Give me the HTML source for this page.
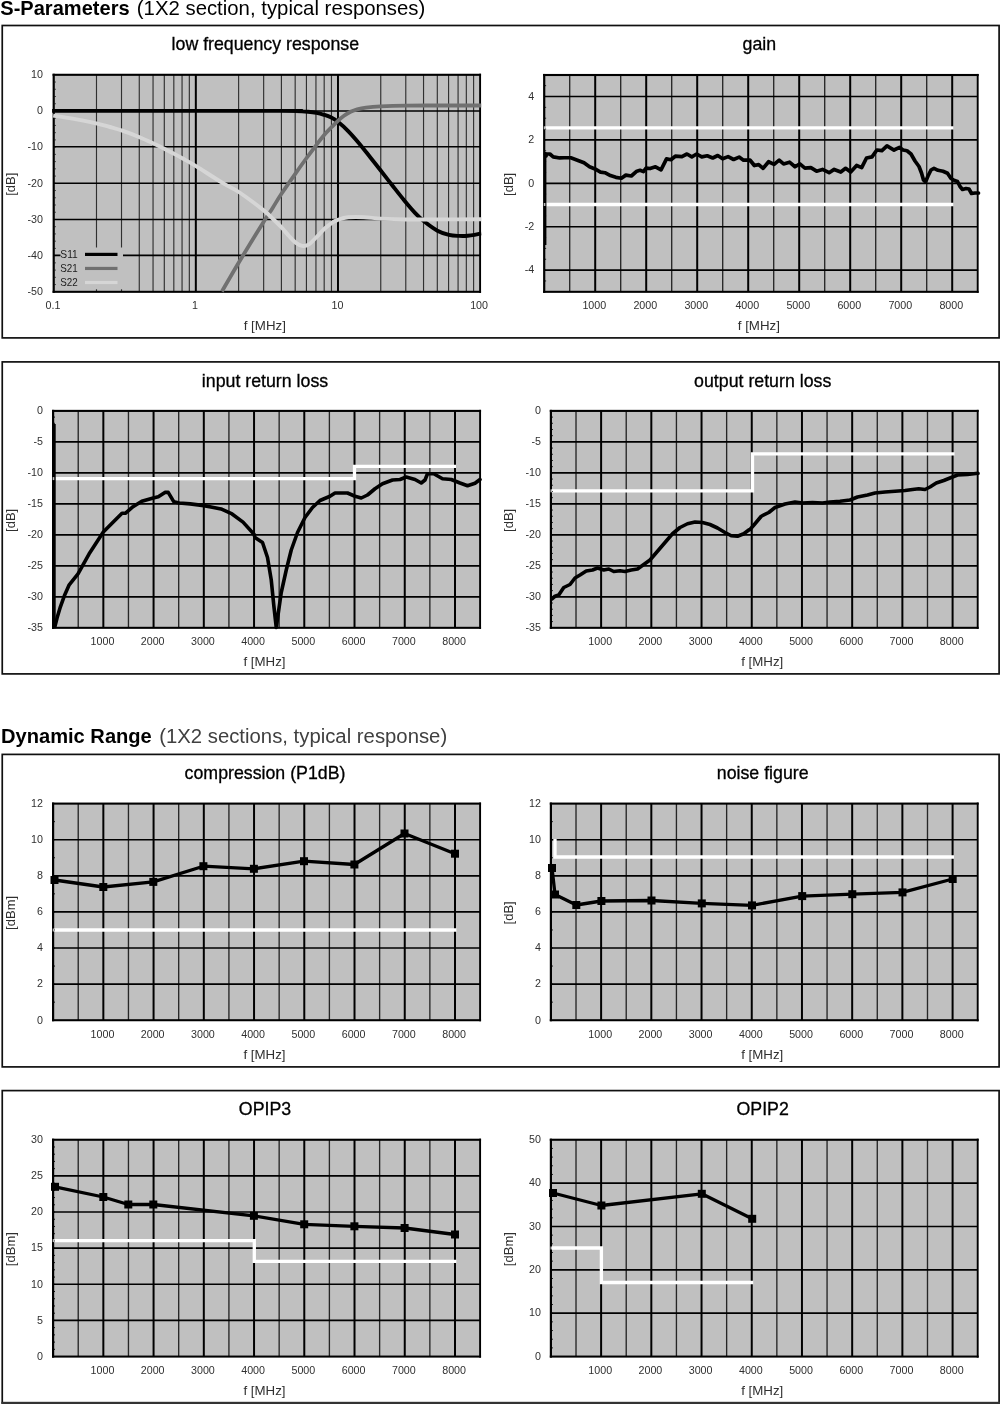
<!DOCTYPE html>
<html><head><meta charset="utf-8"><title>S-Parameters / Dynamic Range</title>
<style>
html,body{margin:0;padding:0;background:#fff;}
body{width:1000px;height:1404px;overflow:hidden;font-family:"Liberation Sans",sans-serif;}
svg{display:block;will-change:transform;}
text{font-family:"Liberation Sans",sans-serif;}
</style></head><body>
<svg width="1000" height="1404" viewBox="0 0 1000 1404" font-family="'Liberation Sans', sans-serif">
<rect width="1000" height="1404" fill="#fff"/>
<text x="0.3" y="14.6" font-size="20.8" fill="#000" font-weight="bold" textLength="129.3" lengthAdjust="spacingAndGlyphs">S-Parameters</text>
<text x="136.8" y="14.6" font-size="20.8" fill="#000" textLength="288.5" lengthAdjust="spacingAndGlyphs">(1X2 section, typical responses)</text>
<text x="1" y="743.4" font-size="20" fill="#000" font-weight="bold" textLength="150.8" lengthAdjust="spacingAndGlyphs">Dynamic Range</text>
<text x="159.2" y="743.3" font-size="20" fill="#404040" textLength="288" lengthAdjust="spacingAndGlyphs">(1X2 sections, typical response)</text>
<rect x="2.25" y="25.5" width="996.85" height="312.4" fill="none" stroke="#101010" stroke-width="1.7"/>
<rect x="2.25" y="361.9" width="996.85" height="312" fill="none" stroke="#101010" stroke-width="1.7"/>
<rect x="2.25" y="754.4" width="996.85" height="312.5" fill="none" stroke="#101010" stroke-width="1.7"/>
<rect x="2.25" y="1090.6" width="996.85" height="312.3" fill="none" stroke="#101010" stroke-width="1.7"/>
<rect x="1.4" y="1401.8" width="998.6" height="2.2" fill="#333"/>
<rect x="53.7" y="74.8" width="426.4" height="217" fill="#c0c0c0"/>
<line x1="96.49" y1="74.8" x2="96.49" y2="291.8" stroke="#303030" stroke-width="1.15"/>
<line x1="121.51" y1="74.8" x2="121.51" y2="291.8" stroke="#303030" stroke-width="1.15"/>
<line x1="139.27" y1="74.8" x2="139.27" y2="291.8" stroke="#303030" stroke-width="1.15"/>
<line x1="153.05" y1="74.8" x2="153.05" y2="291.8" stroke="#303030" stroke-width="1.15"/>
<line x1="164.3" y1="74.8" x2="164.3" y2="291.8" stroke="#303030" stroke-width="1.15"/>
<line x1="173.82" y1="74.8" x2="173.82" y2="291.8" stroke="#303030" stroke-width="1.15"/>
<line x1="182.06" y1="74.8" x2="182.06" y2="291.8" stroke="#303030" stroke-width="1.15"/>
<line x1="189.33" y1="74.8" x2="189.33" y2="291.8" stroke="#303030" stroke-width="1.15"/>
<line x1="238.62" y1="74.8" x2="238.62" y2="291.8" stroke="#303030" stroke-width="1.15"/>
<line x1="263.65" y1="74.8" x2="263.65" y2="291.8" stroke="#303030" stroke-width="1.15"/>
<line x1="281.41" y1="74.8" x2="281.41" y2="291.8" stroke="#303030" stroke-width="1.15"/>
<line x1="295.18" y1="74.8" x2="295.18" y2="291.8" stroke="#303030" stroke-width="1.15"/>
<line x1="306.43" y1="74.8" x2="306.43" y2="291.8" stroke="#303030" stroke-width="1.15"/>
<line x1="315.95" y1="74.8" x2="315.95" y2="291.8" stroke="#303030" stroke-width="1.15"/>
<line x1="324.19" y1="74.8" x2="324.19" y2="291.8" stroke="#303030" stroke-width="1.15"/>
<line x1="331.46" y1="74.8" x2="331.46" y2="291.8" stroke="#303030" stroke-width="1.15"/>
<line x1="380.75" y1="74.8" x2="380.75" y2="291.8" stroke="#303030" stroke-width="1.15"/>
<line x1="405.78" y1="74.8" x2="405.78" y2="291.8" stroke="#303030" stroke-width="1.15"/>
<line x1="423.54" y1="74.8" x2="423.54" y2="291.8" stroke="#303030" stroke-width="1.15"/>
<line x1="437.31" y1="74.8" x2="437.31" y2="291.8" stroke="#303030" stroke-width="1.15"/>
<line x1="448.57" y1="74.8" x2="448.57" y2="291.8" stroke="#303030" stroke-width="1.15"/>
<line x1="458.08" y1="74.8" x2="458.08" y2="291.8" stroke="#303030" stroke-width="1.15"/>
<line x1="466.33" y1="74.8" x2="466.33" y2="291.8" stroke="#303030" stroke-width="1.15"/>
<line x1="473.6" y1="74.8" x2="473.6" y2="291.8" stroke="#303030" stroke-width="1.15"/>
<line x1="195.83" y1="74.8" x2="195.83" y2="291.8" stroke="#000" stroke-width="2"/>
<line x1="337.97" y1="74.8" x2="337.97" y2="291.8" stroke="#000" stroke-width="2"/>
<line x1="53.7" y1="111" x2="480.1" y2="111" stroke="#000" stroke-width="1.65"/>
<line x1="53.7" y1="146.7" x2="480.1" y2="146.7" stroke="#000" stroke-width="1.65"/>
<line x1="53.7" y1="183.2" x2="480.1" y2="183.2" stroke="#000" stroke-width="1.65"/>
<line x1="53.7" y1="219.5" x2="480.1" y2="219.5" stroke="#000" stroke-width="1.65"/>
<line x1="53.7" y1="255.3" x2="480.1" y2="255.3" stroke="#000" stroke-width="1.65"/>
<rect x="60.5" y="247.5" width="62.5" height="41.8" fill="#c0c0c0"/>
<rect x="52.6" y="73.75" width="428.45" height="2.1" fill="#000"/>
<rect x="52.6" y="290.8" width="428.45" height="2.05" fill="#000"/>
<rect x="52.6" y="73.75" width="2.2" height="219.1" fill="#000"/>
<rect x="479.15" y="73.75" width="1.9" height="219.1" fill="#000"/>
<rect x="54.7" y="81.53" width="0.9" height="1" fill="#000"/>
<rect x="54.7" y="88.77" width="0.9" height="1" fill="#000"/>
<rect x="54.7" y="96" width="0.9" height="1" fill="#000"/>
<rect x="54.7" y="103.23" width="0.9" height="1" fill="#000"/>
<rect x="54.7" y="110.47" width="0.9" height="1" fill="#000"/>
<rect x="54.7" y="117.7" width="0.9" height="1" fill="#000"/>
<rect x="54.7" y="124.93" width="0.9" height="1" fill="#000"/>
<rect x="54.7" y="132.17" width="0.9" height="1" fill="#000"/>
<rect x="54.7" y="139.4" width="0.9" height="1" fill="#000"/>
<rect x="54.7" y="146.63" width="0.9" height="1" fill="#000"/>
<rect x="54.7" y="153.87" width="0.9" height="1" fill="#000"/>
<rect x="54.7" y="161.1" width="0.9" height="1" fill="#000"/>
<rect x="54.7" y="168.33" width="0.9" height="1" fill="#000"/>
<rect x="54.7" y="175.57" width="0.9" height="1" fill="#000"/>
<rect x="54.7" y="182.8" width="0.9" height="1" fill="#000"/>
<rect x="54.7" y="190.03" width="0.9" height="1" fill="#000"/>
<rect x="54.7" y="197.27" width="0.9" height="1" fill="#000"/>
<rect x="54.7" y="204.5" width="0.9" height="1" fill="#000"/>
<rect x="54.7" y="211.73" width="0.9" height="1" fill="#000"/>
<rect x="54.7" y="218.97" width="0.9" height="1" fill="#000"/>
<rect x="54.7" y="226.2" width="0.9" height="1" fill="#000"/>
<rect x="54.7" y="233.43" width="0.9" height="1" fill="#000"/>
<rect x="54.7" y="240.67" width="0.9" height="1" fill="#000"/>
<rect x="54.7" y="247.9" width="0.9" height="1" fill="#000"/>
<rect x="54.7" y="255.13" width="0.9" height="1" fill="#000"/>
<rect x="54.7" y="262.37" width="0.9" height="1" fill="#000"/>
<rect x="54.7" y="269.6" width="0.9" height="1" fill="#000"/>
<rect x="54.7" y="276.83" width="0.9" height="1" fill="#000"/>
<rect x="54.7" y="284.07" width="0.9" height="1" fill="#000"/>
<clipPath id="cp1"><rect x="52.1" y="74.8" width="429.3" height="218.2"/></clipPath>
<g clip-path="url(#cp1)">
<path d="M51.9,110.9 C89.92,110.9 239.38,110.87 280,110.9 C320.62,110.93 290.93,110.95 295.6,111.1 C300.27,111.25 304.52,111.5 308,111.8 C311.48,112.1 313.83,112.4 316.5,112.9 C319.17,113.4 321.62,114.07 324,114.8 C326.38,115.53 328.48,116.13 330.8,117.3 C333.12,118.47 334.97,119.47 337.9,121.8 C340.83,124.13 344.82,127.65 348.4,131.3 C351.98,134.95 355.73,139.33 359.4,143.7 C363.07,148.07 366.88,153.08 370.4,157.5 C373.92,161.92 376.83,165.53 380.5,170.2 C384.17,174.87 388.4,180.42 392.4,185.5 C396.4,190.58 400.73,196.15 404.5,200.7 C408.27,205.25 411.75,209.37 415,212.8 C418.25,216.23 420.27,218.32 424,221.3 C427.73,224.28 433.23,228.43 437.4,230.7 C441.57,232.97 445.37,234.03 449,234.9 C452.63,235.77 456.08,235.75 459.2,235.9 C462.32,236.05 465.15,235.97 467.7,235.8 C470.25,235.63 472.2,235.32 474.5,234.9 C476.8,234.48 480.33,233.57 481.5,233.3" fill="none" stroke="#000" stroke-width="3.9" stroke-linejoin="round" stroke-linecap="butt" />
<path d="M221.9,291.5 C224.72,286.65 231.83,274.03 238.8,262.4 C245.77,250.77 258.08,230.73 263.7,221.7 C269.32,212.67 269.57,212.82 272.5,208.2 C275.43,203.58 277.45,199.82 281.3,194 C285.15,188.18 291.38,179.3 295.6,173.3 C299.82,167.3 303.12,162.75 306.6,158 C310.08,153.25 313.57,148.65 316.5,144.8 C319.43,140.95 321.63,137.9 324.2,134.9 C326.77,131.9 329.62,129.15 331.9,126.8 C334.18,124.45 335.88,122.63 337.9,120.8 C339.92,118.97 341.88,117.3 344,115.8 C346.12,114.3 348.4,112.88 350.6,111.8 C352.8,110.72 354.63,110 357.2,109.3 C359.77,108.6 362.12,108.08 366,107.6 C369.88,107.12 373.83,106.73 380.5,106.4 C387.17,106.07 396.08,105.75 406,105.6 C415.92,105.45 427.42,105.52 440,105.5 C452.58,105.48 474.58,105.5 481.5,105.5" fill="none" stroke="#707070" stroke-width="3.8" stroke-linejoin="round" stroke-linecap="butt" />
<path d="M53.2,115.6 C56.42,116.12 65.16,117.37 72.5,118.7 C79.84,120.03 91,122.22 97.25,123.6 C103.5,124.98 105.83,125.82 110,127 C114.17,128.18 117.38,129 122.3,130.7 C127.22,132.4 134.3,135.07 139.5,137.2 C144.7,139.33 149.29,141.55 153.5,143.5 C157.71,145.45 161.25,147.15 164.75,148.9 C168.25,150.65 171.5,152.4 174.5,154 C177.5,155.6 179.23,156.52 182.75,158.5 C186.27,160.48 188.89,161.78 195.6,165.9 C202.31,170.02 215.8,178.85 223,183.2 C230.2,187.55 232.02,187.47 238.8,192 C245.58,196.53 257.9,205.82 263.7,210.4 C269.5,214.98 270.67,216.7 273.6,219.5 C276.53,222.3 278.73,224.45 281.3,227.2 C283.87,229.95 286.62,233.43 289,236 C291.38,238.57 293.4,240.95 295.6,242.6 C297.8,244.25 300,245.6 302.2,245.9 C304.4,246.2 306.42,245.87 308.8,244.4 C311.18,242.93 313.93,239.67 316.5,237.1 C319.07,234.53 321.63,231.38 324.2,229 C326.77,226.62 329.62,224.33 331.9,222.8 C334.18,221.27 335.15,220.72 337.9,219.8 C340.65,218.88 344.05,217.73 348.4,217.3 C352.75,216.87 358.57,216.98 364,217.2 C369.43,217.42 374,218.22 381,218.6 C388,218.98 396.17,219.37 406,219.5 C415.83,219.63 427.42,219.43 440,219.4 C452.58,219.37 474.58,219.32 481.5,219.3" fill="none" stroke="#d6d6d6" stroke-width="3.9" stroke-linejoin="round" stroke-linecap="butt" />
</g>
<rect x="85" y="252.8" width="32.5" height="3.2" fill="#000"/>
<text x="60.3" y="257.8" font-size="11.2" text-anchor="start" fill="#202020" font-weight="normal" textLength="17.5" lengthAdjust="spacingAndGlyphs">S11</text>
<rect x="85" y="266.85" width="32.5" height="3.2" fill="#707070"/>
<text x="60.3" y="271.85" font-size="11.2" text-anchor="start" fill="#202020" font-weight="normal" textLength="17.5" lengthAdjust="spacingAndGlyphs">S21</text>
<rect x="85" y="280.9" width="32.5" height="3.2" fill="#d6d6d6"/>
<text x="60.3" y="285.9" font-size="11.2" text-anchor="start" fill="#202020" font-weight="normal" textLength="17.5" lengthAdjust="spacingAndGlyphs">S22</text>
<text x="265.3" y="50.2" font-size="17.75" text-anchor="middle" fill="#000" font-weight="normal" stroke="#000" stroke-width="0.3">low frequency response</text>
<text x="264.8" y="329.8" font-size="13.3" text-anchor="middle" fill="#303030" font-weight="normal" >f [MHz]</text>
<text x="53" y="308.9" font-size="10.7" text-anchor="middle" fill="#303030" font-weight="normal" >0.1</text>
<text x="195.03" y="308.9" font-size="10.7" text-anchor="middle" fill="#303030" font-weight="normal" >1</text>
<text x="337.47" y="308.9" font-size="10.7" text-anchor="middle" fill="#303030" font-weight="normal" >10</text>
<text x="479.1" y="308.9" font-size="10.7" text-anchor="middle" fill="#303030" font-weight="normal" >100</text>
<text x="42.9" y="78.1" font-size="10.7" text-anchor="end" fill="#303030" font-weight="normal" >10</text>
<text x="42.9" y="114.27" font-size="10.7" text-anchor="end" fill="#303030" font-weight="normal" >0</text>
<text x="42.9" y="150.43" font-size="10.7" text-anchor="end" fill="#303030" font-weight="normal" >-10</text>
<text x="42.9" y="186.6" font-size="10.7" text-anchor="end" fill="#303030" font-weight="normal" >-20</text>
<text x="42.9" y="222.77" font-size="10.7" text-anchor="end" fill="#303030" font-weight="normal" >-30</text>
<text x="42.9" y="258.93" font-size="10.7" text-anchor="end" fill="#303030" font-weight="normal" >-40</text>
<text x="42.9" y="295.1" font-size="10.7" text-anchor="end" fill="#303030" font-weight="normal" >-50</text>
<text transform="translate(14.7,184.3) rotate(-90)" font-size="13" text-anchor="middle" fill="#303030">[dB]</text>
<rect x="544.2" y="75" width="433.5" height="216.8" fill="#c0c0c0"/>
<line x1="569.7" y1="75" x2="569.7" y2="291.8" stroke="#262626" stroke-width="1.35"/>
<line x1="620.7" y1="75" x2="620.7" y2="291.8" stroke="#262626" stroke-width="1.35"/>
<line x1="671.7" y1="75" x2="671.7" y2="291.8" stroke="#262626" stroke-width="1.35"/>
<line x1="722.7" y1="75" x2="722.7" y2="291.8" stroke="#262626" stroke-width="1.35"/>
<line x1="773.7" y1="75" x2="773.7" y2="291.8" stroke="#262626" stroke-width="1.35"/>
<line x1="824.7" y1="75" x2="824.7" y2="291.8" stroke="#262626" stroke-width="1.35"/>
<line x1="875.7" y1="75" x2="875.7" y2="291.8" stroke="#262626" stroke-width="1.35"/>
<line x1="926.7" y1="75" x2="926.7" y2="291.8" stroke="#262626" stroke-width="1.35"/>
<line x1="595.2" y1="75" x2="595.2" y2="291.8" stroke="#000" stroke-width="2"/>
<line x1="646.2" y1="75" x2="646.2" y2="291.8" stroke="#000" stroke-width="2"/>
<line x1="697.2" y1="75" x2="697.2" y2="291.8" stroke="#000" stroke-width="2"/>
<line x1="748.2" y1="75" x2="748.2" y2="291.8" stroke="#000" stroke-width="2"/>
<line x1="799.2" y1="75" x2="799.2" y2="291.8" stroke="#000" stroke-width="2"/>
<line x1="850.2" y1="75" x2="850.2" y2="291.8" stroke="#000" stroke-width="2"/>
<line x1="901.2" y1="75" x2="901.2" y2="291.8" stroke="#000" stroke-width="2"/>
<line x1="952.2" y1="75" x2="952.2" y2="291.8" stroke="#000" stroke-width="2"/>
<line x1="544.2" y1="96.5" x2="977.7" y2="96.5" stroke="#000" stroke-width="1.65"/>
<line x1="544.2" y1="139.9" x2="977.7" y2="139.9" stroke="#000" stroke-width="1.65"/>
<line x1="544.2" y1="183.3" x2="977.7" y2="183.3" stroke="#000" stroke-width="1.65"/>
<line x1="544.2" y1="226.7" x2="977.7" y2="226.7" stroke="#000" stroke-width="1.65"/>
<line x1="544.2" y1="270.1" x2="977.7" y2="270.1" stroke="#000" stroke-width="1.65"/>
<polyline points="544.2,127.8 953.5,127.8" fill="none" stroke="#fff" stroke-width="3.3" stroke-linejoin="miter" stroke-linecap="butt"/>
<polyline points="544.2,204.5 953.5,204.5" fill="none" stroke="#fff" stroke-width="3.3" stroke-linejoin="miter" stroke-linecap="butt"/>
<rect x="545" y="152" width="1.4" height="93" fill="#000"/>
<polyline points="546,156 545.5,154 549.9,154 553.2,156.86 559.8,157.96 564.2,157.74 570.8,157.74 577.4,160.17 584,162.81 589.5,166.77 595.01,168.97 600.51,172.05 604.91,172.71 610.41,175.57 615.91,177.33 621.41,178.21 625.81,175.13 631.31,176.01 636.81,171.17 640.11,170.29 643.41,171.61 646.05,168.09 650.01,168.53 655.51,166.77 661.01,169.85 666.51,158.84 670.91,159.72 675.31,156.2 681.91,156.64 686.97,154 691.82,156.86 696.66,154 701.72,156.86 707.22,155.76 712.72,157.96 717.78,155.54 722.62,158.84 728.12,156.64 733.62,159.5 739.12,157.08 743.52,160.17 750.12,160.17 754.52,165.45 749.9,160.17 754.3,165.45 758.7,164.57 763.1,168.31 768.6,161.71 774.1,164.35 779.16,160.17 783.56,163.91 789.5,162.15 795.01,166.77 799.85,163.91 804.91,168.09 810.85,167.65 816.57,171.17 822.51,169.41 829.11,172.71 834.17,169.41 840.77,172.05 845.61,168.31 850.67,172.05 856.61,165.45 861.67,167.65 866.51,157.96 872.01,156.86 876.85,150.04 881.91,150.7 886.97,145.86 894.02,150.04 899.52,147.4 903,150 907,150.8 911,154 915,161 919,166.5 921.5,173 923.5,180 925.5,182 928,176 931,170 934,168.3 938,170.3 943,171.3 947.5,173.3 951,178.5 954.5,180.5 957.5,181.5 960,186.5 962.5,189.5 966,188.5 969,189 971.5,193.5 975,193 978.5,193" fill="none" stroke="#000" stroke-width="3.7" stroke-linejoin="round" stroke-linecap="round" />
<rect x="543.1" y="73.95" width="435.55" height="2.1" fill="#000"/>
<rect x="543.1" y="290.8" width="435.55" height="2.05" fill="#000"/>
<rect x="543.1" y="73.95" width="2.2" height="218.9" fill="#000"/>
<rect x="976.75" y="73.95" width="1.9" height="218.9" fill="#000"/>
<rect x="545.2" y="85.15" width="0.9" height="1" fill="#000"/>
<rect x="545.2" y="96" width="0.9" height="1" fill="#000"/>
<rect x="545.2" y="106.85" width="0.9" height="1" fill="#000"/>
<rect x="545.2" y="117.7" width="0.9" height="1" fill="#000"/>
<rect x="545.2" y="128.55" width="0.9" height="1" fill="#000"/>
<rect x="545.2" y="139.4" width="0.9" height="1" fill="#000"/>
<rect x="545.2" y="150.25" width="0.9" height="1" fill="#000"/>
<rect x="545.2" y="161.1" width="0.9" height="1" fill="#000"/>
<rect x="545.2" y="171.95" width="0.9" height="1" fill="#000"/>
<rect x="545.2" y="182.8" width="0.9" height="1" fill="#000"/>
<rect x="545.2" y="193.65" width="0.9" height="1" fill="#000"/>
<rect x="545.2" y="204.5" width="0.9" height="1" fill="#000"/>
<rect x="545.2" y="215.35" width="0.9" height="1" fill="#000"/>
<rect x="545.2" y="226.2" width="0.9" height="1" fill="#000"/>
<rect x="545.2" y="237.05" width="0.9" height="1" fill="#000"/>
<rect x="545.2" y="247.9" width="0.9" height="1" fill="#000"/>
<rect x="545.2" y="258.75" width="0.9" height="1" fill="#000"/>
<rect x="545.2" y="269.6" width="0.9" height="1" fill="#000"/>
<rect x="545.2" y="280.45" width="0.9" height="1" fill="#000"/>
<rect x="543.8" y="126.3" width="1.6" height="3" fill="#fff" opacity="0.75"/>
<rect x="543.8" y="203" width="1.6" height="3" fill="#fff" opacity="0.75"/>
<text x="759.35" y="50.2" font-size="17.75" text-anchor="middle" fill="#000" font-weight="normal" stroke="#000" stroke-width="0.3">gain</text>
<text x="758.85" y="329.8" font-size="13.3" text-anchor="middle" fill="#303030" font-weight="normal" >f [MHz]</text>
<text x="594.3" y="308.9" font-size="10.7" text-anchor="middle" fill="#303030" font-weight="normal" >1000</text>
<text x="645.3" y="308.9" font-size="10.7" text-anchor="middle" fill="#303030" font-weight="normal" >2000</text>
<text x="696.3" y="308.9" font-size="10.7" text-anchor="middle" fill="#303030" font-weight="normal" >3000</text>
<text x="747.3" y="308.9" font-size="10.7" text-anchor="middle" fill="#303030" font-weight="normal" >4000</text>
<text x="798.3" y="308.9" font-size="10.7" text-anchor="middle" fill="#303030" font-weight="normal" >5000</text>
<text x="849.3" y="308.9" font-size="10.7" text-anchor="middle" fill="#303030" font-weight="normal" >6000</text>
<text x="900.3" y="308.9" font-size="10.7" text-anchor="middle" fill="#303030" font-weight="normal" >7000</text>
<text x="951.3" y="308.9" font-size="10.7" text-anchor="middle" fill="#303030" font-weight="normal" >8000</text>
<text x="534.2" y="99.8" font-size="10.7" text-anchor="end" fill="#303030" font-weight="normal" >4</text>
<text x="534.2" y="143.2" font-size="10.7" text-anchor="end" fill="#303030" font-weight="normal" >2</text>
<text x="534.2" y="186.6" font-size="10.7" text-anchor="end" fill="#303030" font-weight="normal" >0</text>
<text x="534.2" y="230" font-size="10.7" text-anchor="end" fill="#303030" font-weight="normal" >-2</text>
<text x="534.2" y="273.4" font-size="10.7" text-anchor="end" fill="#303030" font-weight="normal" >-4</text>
<text transform="translate(513.2,184.4) rotate(-90)" font-size="13" text-anchor="middle" fill="#303030">[dB]</text>
<rect x="53.1" y="410.9" width="427" height="216.9" fill="#c0c0c0"/>
<line x1="78.22" y1="410.9" x2="78.22" y2="627.8" stroke="#262626" stroke-width="1.35"/>
<line x1="128.45" y1="410.9" x2="128.45" y2="627.8" stroke="#262626" stroke-width="1.35"/>
<line x1="178.69" y1="410.9" x2="178.69" y2="627.8" stroke="#262626" stroke-width="1.35"/>
<line x1="228.92" y1="410.9" x2="228.92" y2="627.8" stroke="#262626" stroke-width="1.35"/>
<line x1="279.16" y1="410.9" x2="279.16" y2="627.8" stroke="#262626" stroke-width="1.35"/>
<line x1="329.39" y1="410.9" x2="329.39" y2="627.8" stroke="#262626" stroke-width="1.35"/>
<line x1="379.63" y1="410.9" x2="379.63" y2="627.8" stroke="#262626" stroke-width="1.35"/>
<line x1="429.86" y1="410.9" x2="429.86" y2="627.8" stroke="#262626" stroke-width="1.35"/>
<line x1="103.34" y1="410.9" x2="103.34" y2="627.8" stroke="#000" stroke-width="2"/>
<line x1="153.57" y1="410.9" x2="153.57" y2="627.8" stroke="#000" stroke-width="2"/>
<line x1="203.81" y1="410.9" x2="203.81" y2="627.8" stroke="#000" stroke-width="2"/>
<line x1="254.04" y1="410.9" x2="254.04" y2="627.8" stroke="#000" stroke-width="2"/>
<line x1="304.28" y1="410.9" x2="304.28" y2="627.8" stroke="#000" stroke-width="2"/>
<line x1="354.51" y1="410.9" x2="354.51" y2="627.8" stroke="#000" stroke-width="2"/>
<line x1="404.75" y1="410.9" x2="404.75" y2="627.8" stroke="#000" stroke-width="2"/>
<line x1="454.98" y1="410.9" x2="454.98" y2="627.8" stroke="#000" stroke-width="2"/>
<line x1="53.1" y1="441.89" x2="480.1" y2="441.89" stroke="#000" stroke-width="1.65"/>
<line x1="53.1" y1="472.87" x2="480.1" y2="472.87" stroke="#000" stroke-width="1.65"/>
<line x1="53.1" y1="503.86" x2="480.1" y2="503.86" stroke="#000" stroke-width="1.65"/>
<line x1="53.1" y1="534.84" x2="480.1" y2="534.84" stroke="#000" stroke-width="1.65"/>
<line x1="53.1" y1="565.83" x2="480.1" y2="565.83" stroke="#000" stroke-width="1.65"/>
<line x1="53.1" y1="596.81" x2="480.1" y2="596.81" stroke="#000" stroke-width="1.65"/>
<polyline points="53.1,478.6 354.5,478.6 354.5,466.3 456,466.3" fill="none" stroke="#fff" stroke-width="3.3" stroke-linejoin="miter" stroke-linecap="butt"/>
<rect x="54" y="424" width="1.7" height="203" fill="#000"/>
<polyline points="54.9,626.62 57.1,617.82 60.4,606.82 64.8,594.72 69.2,584.82 78,573.82 89,554.02 103.31,532.01 111.01,524.31 122.01,513.31 125.31,513.31 133.01,506.71 141.81,501.21 153.25,497.91 158.31,496.81 164.91,492.41 168.21,492.41 173.71,501.65 179.21,502.97 190.21,503.85 203.86,505.61 212.22,507.15 221.02,508.91 232.02,513.97 243.02,522.11 254.02,534.21 255,537.5 262.5,542.5 267.5,557.5 271.25,580 273.75,605 276.25,627.5 278.75,610 281.25,592.5 286.25,570 291.25,550 297.5,532.5 305,517.5 312.5,507.5 320,500.5 330,496.25 335,493 347.5,493 355,496.25 361.25,498 367.5,495 375,488.75 382.5,483.75 392.5,480 400,479.5 406.25,477 415,479.5 421.25,483 425,480 427.5,473.75 433.75,473.75 442.5,478.75 451.25,479.5 460,483 467.5,485.75 475,483.25 480,479.5" fill="none" stroke="#000" stroke-width="3.6" stroke-linejoin="round" stroke-linecap="round" />
<rect x="52" y="409.85" width="429.05" height="2.1" fill="#000"/>
<rect x="52" y="626.8" width="429.05" height="2.05" fill="#000"/>
<rect x="52" y="409.85" width="2.2" height="219" fill="#000"/>
<rect x="479.15" y="409.85" width="1.9" height="219" fill="#000"/>
<rect x="54.1" y="416.6" width="0.9" height="1" fill="#000"/>
<rect x="54.1" y="422.79" width="0.9" height="1" fill="#000"/>
<rect x="54.1" y="428.99" width="0.9" height="1" fill="#000"/>
<rect x="54.1" y="435.19" width="0.9" height="1" fill="#000"/>
<rect x="54.1" y="441.39" width="0.9" height="1" fill="#000"/>
<rect x="54.1" y="447.58" width="0.9" height="1" fill="#000"/>
<rect x="54.1" y="453.78" width="0.9" height="1" fill="#000"/>
<rect x="54.1" y="459.98" width="0.9" height="1" fill="#000"/>
<rect x="54.1" y="466.17" width="0.9" height="1" fill="#000"/>
<rect x="54.1" y="472.37" width="0.9" height="1" fill="#000"/>
<rect x="54.1" y="478.57" width="0.9" height="1" fill="#000"/>
<rect x="54.1" y="484.77" width="0.9" height="1" fill="#000"/>
<rect x="54.1" y="490.96" width="0.9" height="1" fill="#000"/>
<rect x="54.1" y="497.16" width="0.9" height="1" fill="#000"/>
<rect x="54.1" y="503.36" width="0.9" height="1" fill="#000"/>
<rect x="54.1" y="509.55" width="0.9" height="1" fill="#000"/>
<rect x="54.1" y="515.75" width="0.9" height="1" fill="#000"/>
<rect x="54.1" y="521.95" width="0.9" height="1" fill="#000"/>
<rect x="54.1" y="528.15" width="0.9" height="1" fill="#000"/>
<rect x="54.1" y="534.34" width="0.9" height="1" fill="#000"/>
<rect x="54.1" y="540.54" width="0.9" height="1" fill="#000"/>
<rect x="54.1" y="546.74" width="0.9" height="1" fill="#000"/>
<rect x="54.1" y="552.93" width="0.9" height="1" fill="#000"/>
<rect x="54.1" y="559.13" width="0.9" height="1" fill="#000"/>
<rect x="54.1" y="565.33" width="0.9" height="1" fill="#000"/>
<rect x="54.1" y="571.53" width="0.9" height="1" fill="#000"/>
<rect x="54.1" y="577.72" width="0.9" height="1" fill="#000"/>
<rect x="54.1" y="583.92" width="0.9" height="1" fill="#000"/>
<rect x="54.1" y="590.12" width="0.9" height="1" fill="#000"/>
<rect x="54.1" y="596.31" width="0.9" height="1" fill="#000"/>
<rect x="54.1" y="602.51" width="0.9" height="1" fill="#000"/>
<rect x="54.1" y="608.71" width="0.9" height="1" fill="#000"/>
<rect x="54.1" y="614.91" width="0.9" height="1" fill="#000"/>
<rect x="54.1" y="621.1" width="0.9" height="1" fill="#000"/>
<rect x="52.7" y="477.1" width="1.6" height="3" fill="#fff" opacity="0.75"/>
<text x="265" y="386.5" font-size="17.75" text-anchor="middle" fill="#000" font-weight="normal" stroke="#000" stroke-width="0.3">input return loss</text>
<text x="264.5" y="665.8" font-size="13.3" text-anchor="middle" fill="#303030" font-weight="normal" >f [MHz]</text>
<text x="102.44" y="644.9" font-size="10.7" text-anchor="middle" fill="#303030" font-weight="normal" >1000</text>
<text x="152.67" y="644.9" font-size="10.7" text-anchor="middle" fill="#303030" font-weight="normal" >2000</text>
<text x="202.91" y="644.9" font-size="10.7" text-anchor="middle" fill="#303030" font-weight="normal" >3000</text>
<text x="253.14" y="644.9" font-size="10.7" text-anchor="middle" fill="#303030" font-weight="normal" >4000</text>
<text x="303.38" y="644.9" font-size="10.7" text-anchor="middle" fill="#303030" font-weight="normal" >5000</text>
<text x="353.61" y="644.9" font-size="10.7" text-anchor="middle" fill="#303030" font-weight="normal" >6000</text>
<text x="403.85" y="644.9" font-size="10.7" text-anchor="middle" fill="#303030" font-weight="normal" >7000</text>
<text x="454.08" y="644.9" font-size="10.7" text-anchor="middle" fill="#303030" font-weight="normal" >8000</text>
<text x="42.9" y="414.2" font-size="10.7" text-anchor="end" fill="#303030" font-weight="normal" >0</text>
<text x="42.9" y="445.19" font-size="10.7" text-anchor="end" fill="#303030" font-weight="normal" >-5</text>
<text x="42.9" y="476.17" font-size="10.7" text-anchor="end" fill="#303030" font-weight="normal" >-10</text>
<text x="42.9" y="507.16" font-size="10.7" text-anchor="end" fill="#303030" font-weight="normal" >-15</text>
<text x="42.9" y="538.14" font-size="10.7" text-anchor="end" fill="#303030" font-weight="normal" >-20</text>
<text x="42.9" y="569.13" font-size="10.7" text-anchor="end" fill="#303030" font-weight="normal" >-25</text>
<text x="42.9" y="600.11" font-size="10.7" text-anchor="end" fill="#303030" font-weight="normal" >-30</text>
<text x="42.9" y="631.1" font-size="10.7" text-anchor="end" fill="#303030" font-weight="normal" >-35</text>
<text transform="translate(14.7,520.35) rotate(-90)" font-size="13" text-anchor="middle" fill="#303030">[dB]</text>
<rect x="550.9" y="410.9" width="426.8" height="216.9" fill="#c0c0c0"/>
<line x1="576.01" y1="410.9" x2="576.01" y2="627.8" stroke="#262626" stroke-width="1.35"/>
<line x1="626.22" y1="410.9" x2="626.22" y2="627.8" stroke="#262626" stroke-width="1.35"/>
<line x1="676.43" y1="410.9" x2="676.43" y2="627.8" stroke="#262626" stroke-width="1.35"/>
<line x1="726.64" y1="410.9" x2="726.64" y2="627.8" stroke="#262626" stroke-width="1.35"/>
<line x1="776.85" y1="410.9" x2="776.85" y2="627.8" stroke="#262626" stroke-width="1.35"/>
<line x1="827.06" y1="410.9" x2="827.06" y2="627.8" stroke="#262626" stroke-width="1.35"/>
<line x1="877.28" y1="410.9" x2="877.28" y2="627.8" stroke="#262626" stroke-width="1.35"/>
<line x1="927.49" y1="410.9" x2="927.49" y2="627.8" stroke="#262626" stroke-width="1.35"/>
<line x1="601.11" y1="410.9" x2="601.11" y2="627.8" stroke="#000" stroke-width="2"/>
<line x1="651.32" y1="410.9" x2="651.32" y2="627.8" stroke="#000" stroke-width="2"/>
<line x1="701.54" y1="410.9" x2="701.54" y2="627.8" stroke="#000" stroke-width="2"/>
<line x1="751.75" y1="410.9" x2="751.75" y2="627.8" stroke="#000" stroke-width="2"/>
<line x1="801.96" y1="410.9" x2="801.96" y2="627.8" stroke="#000" stroke-width="2"/>
<line x1="852.17" y1="410.9" x2="852.17" y2="627.8" stroke="#000" stroke-width="2"/>
<line x1="902.38" y1="410.9" x2="902.38" y2="627.8" stroke="#000" stroke-width="2"/>
<line x1="952.59" y1="410.9" x2="952.59" y2="627.8" stroke="#000" stroke-width="2"/>
<line x1="550.9" y1="441.89" x2="977.7" y2="441.89" stroke="#000" stroke-width="1.65"/>
<line x1="550.9" y1="472.87" x2="977.7" y2="472.87" stroke="#000" stroke-width="1.65"/>
<line x1="550.9" y1="503.86" x2="977.7" y2="503.86" stroke="#000" stroke-width="1.65"/>
<line x1="550.9" y1="534.84" x2="977.7" y2="534.84" stroke="#000" stroke-width="1.65"/>
<line x1="550.9" y1="565.83" x2="977.7" y2="565.83" stroke="#000" stroke-width="1.65"/>
<line x1="550.9" y1="596.81" x2="977.7" y2="596.81" stroke="#000" stroke-width="1.65"/>
<polyline points="550.9,490.8 752.5,490.8 752.5,453.8 954.5,453.8" fill="none" stroke="#fff" stroke-width="3.3" stroke-linejoin="miter" stroke-linecap="butt"/>
<polyline points="552,598.75 555,596.25 558.75,595 563.75,587.5 570,584.5 575,578 580,575 586.25,571 592.5,570 597.5,568 603.75,570 608.75,569 613.75,571.5 620,570.75 625,571.5 631.25,570 637.5,569 643.75,564.5 650,560 657.5,551.25 665,542.5 672.5,533.75 680,527.5 687.5,523.75 695,522 702.5,522.5 710,524.5 717.5,528 725,532.5 731.25,535.75 737.5,536.25 743.75,533.75 748.75,530 750,529.5 755,523.75 761.25,516.25 768.75,512.5 775,507.5 785,504 795,502 802.5,503 812.5,502.5 822.5,503 830,502 840,501.25 850,500 857.5,497 867.5,495 875,493 885,492 895,491.25 905,490.5 912.5,489.5 918.75,488.75 925,489.5 930,487 936.25,483 943.75,480.5 950,478 957.5,475 967.5,474.5 978,473.25" fill="none" stroke="#000" stroke-width="3.6" stroke-linejoin="round" stroke-linecap="round" />
<rect x="549.8" y="409.85" width="428.85" height="2.1" fill="#000"/>
<rect x="549.8" y="626.8" width="428.85" height="2.05" fill="#000"/>
<rect x="549.8" y="409.85" width="2.2" height="219" fill="#000"/>
<rect x="976.75" y="409.85" width="1.9" height="219" fill="#000"/>
<rect x="551.9" y="416.6" width="0.9" height="1" fill="#000"/>
<rect x="551.9" y="422.79" width="0.9" height="1" fill="#000"/>
<rect x="551.9" y="428.99" width="0.9" height="1" fill="#000"/>
<rect x="551.9" y="435.19" width="0.9" height="1" fill="#000"/>
<rect x="551.9" y="441.39" width="0.9" height="1" fill="#000"/>
<rect x="551.9" y="447.58" width="0.9" height="1" fill="#000"/>
<rect x="551.9" y="453.78" width="0.9" height="1" fill="#000"/>
<rect x="551.9" y="459.98" width="0.9" height="1" fill="#000"/>
<rect x="551.9" y="466.17" width="0.9" height="1" fill="#000"/>
<rect x="551.9" y="472.37" width="0.9" height="1" fill="#000"/>
<rect x="551.9" y="478.57" width="0.9" height="1" fill="#000"/>
<rect x="551.9" y="484.77" width="0.9" height="1" fill="#000"/>
<rect x="551.9" y="490.96" width="0.9" height="1" fill="#000"/>
<rect x="551.9" y="497.16" width="0.9" height="1" fill="#000"/>
<rect x="551.9" y="503.36" width="0.9" height="1" fill="#000"/>
<rect x="551.9" y="509.55" width="0.9" height="1" fill="#000"/>
<rect x="551.9" y="515.75" width="0.9" height="1" fill="#000"/>
<rect x="551.9" y="521.95" width="0.9" height="1" fill="#000"/>
<rect x="551.9" y="528.15" width="0.9" height="1" fill="#000"/>
<rect x="551.9" y="534.34" width="0.9" height="1" fill="#000"/>
<rect x="551.9" y="540.54" width="0.9" height="1" fill="#000"/>
<rect x="551.9" y="546.74" width="0.9" height="1" fill="#000"/>
<rect x="551.9" y="552.93" width="0.9" height="1" fill="#000"/>
<rect x="551.9" y="559.13" width="0.9" height="1" fill="#000"/>
<rect x="551.9" y="565.33" width="0.9" height="1" fill="#000"/>
<rect x="551.9" y="571.53" width="0.9" height="1" fill="#000"/>
<rect x="551.9" y="577.72" width="0.9" height="1" fill="#000"/>
<rect x="551.9" y="583.92" width="0.9" height="1" fill="#000"/>
<rect x="551.9" y="590.12" width="0.9" height="1" fill="#000"/>
<rect x="551.9" y="596.31" width="0.9" height="1" fill="#000"/>
<rect x="551.9" y="602.51" width="0.9" height="1" fill="#000"/>
<rect x="551.9" y="608.71" width="0.9" height="1" fill="#000"/>
<rect x="551.9" y="614.91" width="0.9" height="1" fill="#000"/>
<rect x="551.9" y="621.1" width="0.9" height="1" fill="#000"/>
<rect x="550.5" y="489.3" width="1.6" height="3" fill="#fff" opacity="0.75"/>
<text x="762.7" y="386.5" font-size="17.75" text-anchor="middle" fill="#000" font-weight="normal" stroke="#000" stroke-width="0.3">output return loss</text>
<text x="762.2" y="665.8" font-size="13.3" text-anchor="middle" fill="#303030" font-weight="normal" >f [MHz]</text>
<text x="600.21" y="644.9" font-size="10.7" text-anchor="middle" fill="#303030" font-weight="normal" >1000</text>
<text x="650.42" y="644.9" font-size="10.7" text-anchor="middle" fill="#303030" font-weight="normal" >2000</text>
<text x="700.64" y="644.9" font-size="10.7" text-anchor="middle" fill="#303030" font-weight="normal" >3000</text>
<text x="750.85" y="644.9" font-size="10.7" text-anchor="middle" fill="#303030" font-weight="normal" >4000</text>
<text x="801.06" y="644.9" font-size="10.7" text-anchor="middle" fill="#303030" font-weight="normal" >5000</text>
<text x="851.27" y="644.9" font-size="10.7" text-anchor="middle" fill="#303030" font-weight="normal" >6000</text>
<text x="901.48" y="644.9" font-size="10.7" text-anchor="middle" fill="#303030" font-weight="normal" >7000</text>
<text x="951.69" y="644.9" font-size="10.7" text-anchor="middle" fill="#303030" font-weight="normal" >8000</text>
<text x="540.9" y="414.2" font-size="10.7" text-anchor="end" fill="#303030" font-weight="normal" >0</text>
<text x="540.9" y="445.19" font-size="10.7" text-anchor="end" fill="#303030" font-weight="normal" >-5</text>
<text x="540.9" y="476.17" font-size="10.7" text-anchor="end" fill="#303030" font-weight="normal" >-10</text>
<text x="540.9" y="507.16" font-size="10.7" text-anchor="end" fill="#303030" font-weight="normal" >-15</text>
<text x="540.9" y="538.14" font-size="10.7" text-anchor="end" fill="#303030" font-weight="normal" >-20</text>
<text x="540.9" y="569.13" font-size="10.7" text-anchor="end" fill="#303030" font-weight="normal" >-25</text>
<text x="540.9" y="600.11" font-size="10.7" text-anchor="end" fill="#303030" font-weight="normal" >-30</text>
<text x="540.9" y="631.1" font-size="10.7" text-anchor="end" fill="#303030" font-weight="normal" >-35</text>
<text transform="translate(513.2,520.35) rotate(-90)" font-size="13" text-anchor="middle" fill="#303030">[dB]</text>
<rect x="53.1" y="803.6" width="427" height="216.6" fill="#c0c0c0"/>
<line x1="78.22" y1="803.6" x2="78.22" y2="1020.2" stroke="#262626" stroke-width="1.35"/>
<line x1="128.45" y1="803.6" x2="128.45" y2="1020.2" stroke="#262626" stroke-width="1.35"/>
<line x1="178.69" y1="803.6" x2="178.69" y2="1020.2" stroke="#262626" stroke-width="1.35"/>
<line x1="228.92" y1="803.6" x2="228.92" y2="1020.2" stroke="#262626" stroke-width="1.35"/>
<line x1="279.16" y1="803.6" x2="279.16" y2="1020.2" stroke="#262626" stroke-width="1.35"/>
<line x1="329.39" y1="803.6" x2="329.39" y2="1020.2" stroke="#262626" stroke-width="1.35"/>
<line x1="379.63" y1="803.6" x2="379.63" y2="1020.2" stroke="#262626" stroke-width="1.35"/>
<line x1="429.86" y1="803.6" x2="429.86" y2="1020.2" stroke="#262626" stroke-width="1.35"/>
<line x1="103.34" y1="803.6" x2="103.34" y2="1020.2" stroke="#000" stroke-width="2"/>
<line x1="153.57" y1="803.6" x2="153.57" y2="1020.2" stroke="#000" stroke-width="2"/>
<line x1="203.81" y1="803.6" x2="203.81" y2="1020.2" stroke="#000" stroke-width="2"/>
<line x1="254.04" y1="803.6" x2="254.04" y2="1020.2" stroke="#000" stroke-width="2"/>
<line x1="304.28" y1="803.6" x2="304.28" y2="1020.2" stroke="#000" stroke-width="2"/>
<line x1="354.51" y1="803.6" x2="354.51" y2="1020.2" stroke="#000" stroke-width="2"/>
<line x1="404.75" y1="803.6" x2="404.75" y2="1020.2" stroke="#000" stroke-width="2"/>
<line x1="454.98" y1="803.6" x2="454.98" y2="1020.2" stroke="#000" stroke-width="2"/>
<line x1="53.1" y1="839.7" x2="480.1" y2="839.7" stroke="#000" stroke-width="1.65"/>
<line x1="53.1" y1="875.8" x2="480.1" y2="875.8" stroke="#000" stroke-width="1.65"/>
<line x1="53.1" y1="911.9" x2="480.1" y2="911.9" stroke="#000" stroke-width="1.65"/>
<line x1="53.1" y1="948" x2="480.1" y2="948" stroke="#000" stroke-width="1.65"/>
<line x1="53.1" y1="984.1" x2="480.1" y2="984.1" stroke="#000" stroke-width="1.65"/>
<polyline points="53.1,930 456.4,930" fill="none" stroke="#fff" stroke-width="3.3" stroke-linejoin="miter" stroke-linecap="butt"/>
<polyline points="54.5,880 103.3,887 153.3,881.9 203.4,866.2 253.9,868.8 304,861.2 354.4,864.5 404.5,833.5 455,853.7" fill="none" stroke="#000" stroke-width="3.3" stroke-linejoin="round" stroke-linecap="round" />
<rect x="52" y="802.55" width="429.05" height="2.1" fill="#000"/>
<rect x="52" y="1019.2" width="429.05" height="2.05" fill="#000"/>
<rect x="52" y="802.55" width="2.2" height="218.7" fill="#000"/>
<rect x="479.15" y="802.55" width="1.9" height="218.7" fill="#000"/>
<rect x="54.1" y="821.15" width="0.9" height="1" fill="#000"/>
<rect x="54.1" y="839.2" width="0.9" height="1" fill="#000"/>
<rect x="54.1" y="857.25" width="0.9" height="1" fill="#000"/>
<rect x="54.1" y="875.3" width="0.9" height="1" fill="#000"/>
<rect x="54.1" y="893.35" width="0.9" height="1" fill="#000"/>
<rect x="54.1" y="911.4" width="0.9" height="1" fill="#000"/>
<rect x="54.1" y="929.45" width="0.9" height="1" fill="#000"/>
<rect x="54.1" y="947.5" width="0.9" height="1" fill="#000"/>
<rect x="54.1" y="965.55" width="0.9" height="1" fill="#000"/>
<rect x="54.1" y="983.6" width="0.9" height="1" fill="#000"/>
<rect x="54.1" y="1001.65" width="0.9" height="1" fill="#000"/>
<rect x="52.7" y="928.5" width="1.6" height="3" fill="#fff" opacity="0.75"/>
<rect x="50.5" y="876" width="8" height="8" fill="#000"/>
<rect x="99.3" y="883" width="8" height="8" fill="#000"/>
<rect x="149.3" y="877.9" width="8" height="8" fill="#000"/>
<rect x="199.4" y="862.2" width="8" height="8" fill="#000"/>
<rect x="249.9" y="864.8" width="8" height="8" fill="#000"/>
<rect x="300" y="857.2" width="8" height="8" fill="#000"/>
<rect x="350.4" y="860.5" width="8" height="8" fill="#000"/>
<rect x="400.5" y="829.5" width="8" height="8" fill="#000"/>
<rect x="451" y="849.7" width="8" height="8" fill="#000"/>
<text x="265" y="779.3" font-size="17.75" text-anchor="middle" fill="#000" font-weight="normal" stroke="#000" stroke-width="0.3">compression (P1dB)</text>
<text x="264.5" y="1058.8" font-size="13.3" text-anchor="middle" fill="#303030" font-weight="normal" >f [MHz]</text>
<text x="102.44" y="1037.9" font-size="10.7" text-anchor="middle" fill="#303030" font-weight="normal" >1000</text>
<text x="152.67" y="1037.9" font-size="10.7" text-anchor="middle" fill="#303030" font-weight="normal" >2000</text>
<text x="202.91" y="1037.9" font-size="10.7" text-anchor="middle" fill="#303030" font-weight="normal" >3000</text>
<text x="253.14" y="1037.9" font-size="10.7" text-anchor="middle" fill="#303030" font-weight="normal" >4000</text>
<text x="303.38" y="1037.9" font-size="10.7" text-anchor="middle" fill="#303030" font-weight="normal" >5000</text>
<text x="353.61" y="1037.9" font-size="10.7" text-anchor="middle" fill="#303030" font-weight="normal" >6000</text>
<text x="403.85" y="1037.9" font-size="10.7" text-anchor="middle" fill="#303030" font-weight="normal" >7000</text>
<text x="454.08" y="1037.9" font-size="10.7" text-anchor="middle" fill="#303030" font-weight="normal" >8000</text>
<text x="42.9" y="806.9" font-size="10.7" text-anchor="end" fill="#303030" font-weight="normal" >12</text>
<text x="42.9" y="843" font-size="10.7" text-anchor="end" fill="#303030" font-weight="normal" >10</text>
<text x="42.9" y="879.1" font-size="10.7" text-anchor="end" fill="#303030" font-weight="normal" >8</text>
<text x="42.9" y="915.2" font-size="10.7" text-anchor="end" fill="#303030" font-weight="normal" >6</text>
<text x="42.9" y="951.3" font-size="10.7" text-anchor="end" fill="#303030" font-weight="normal" >4</text>
<text x="42.9" y="987.4" font-size="10.7" text-anchor="end" fill="#303030" font-weight="normal" >2</text>
<text x="42.9" y="1023.5" font-size="10.7" text-anchor="end" fill="#303030" font-weight="normal" >0</text>
<text transform="translate(14.7,912.9) rotate(-90)" font-size="13" text-anchor="middle" fill="#303030">[dBm]</text>
<rect x="550.9" y="803.6" width="426.8" height="216.6" fill="#c0c0c0"/>
<line x1="576.01" y1="803.6" x2="576.01" y2="1020.2" stroke="#262626" stroke-width="1.35"/>
<line x1="626.22" y1="803.6" x2="626.22" y2="1020.2" stroke="#262626" stroke-width="1.35"/>
<line x1="676.43" y1="803.6" x2="676.43" y2="1020.2" stroke="#262626" stroke-width="1.35"/>
<line x1="726.64" y1="803.6" x2="726.64" y2="1020.2" stroke="#262626" stroke-width="1.35"/>
<line x1="776.85" y1="803.6" x2="776.85" y2="1020.2" stroke="#262626" stroke-width="1.35"/>
<line x1="827.06" y1="803.6" x2="827.06" y2="1020.2" stroke="#262626" stroke-width="1.35"/>
<line x1="877.28" y1="803.6" x2="877.28" y2="1020.2" stroke="#262626" stroke-width="1.35"/>
<line x1="927.49" y1="803.6" x2="927.49" y2="1020.2" stroke="#262626" stroke-width="1.35"/>
<line x1="601.11" y1="803.6" x2="601.11" y2="1020.2" stroke="#000" stroke-width="2"/>
<line x1="651.32" y1="803.6" x2="651.32" y2="1020.2" stroke="#000" stroke-width="2"/>
<line x1="701.54" y1="803.6" x2="701.54" y2="1020.2" stroke="#000" stroke-width="2"/>
<line x1="751.75" y1="803.6" x2="751.75" y2="1020.2" stroke="#000" stroke-width="2"/>
<line x1="801.96" y1="803.6" x2="801.96" y2="1020.2" stroke="#000" stroke-width="2"/>
<line x1="852.17" y1="803.6" x2="852.17" y2="1020.2" stroke="#000" stroke-width="2"/>
<line x1="902.38" y1="803.6" x2="902.38" y2="1020.2" stroke="#000" stroke-width="2"/>
<line x1="952.59" y1="803.6" x2="952.59" y2="1020.2" stroke="#000" stroke-width="2"/>
<line x1="550.9" y1="839.7" x2="977.7" y2="839.7" stroke="#000" stroke-width="1.65"/>
<line x1="550.9" y1="875.8" x2="977.7" y2="875.8" stroke="#000" stroke-width="1.65"/>
<line x1="550.9" y1="911.9" x2="977.7" y2="911.9" stroke="#000" stroke-width="1.65"/>
<line x1="550.9" y1="948" x2="977.7" y2="948" stroke="#000" stroke-width="1.65"/>
<line x1="550.9" y1="984.1" x2="977.7" y2="984.1" stroke="#000" stroke-width="1.65"/>
<polyline points="555,839 555,857 954,857" fill="none" stroke="#fff" stroke-width="3.3" stroke-linejoin="miter" stroke-linecap="butt"/>
<polyline points="552,868 555,894.5 576.3,905 601.4,901 651.5,900.5 701.8,903.4 752,905.4 802.2,896.1 852.3,894.2 902.5,892.4 952.7,879" fill="none" stroke="#000" stroke-width="3.3" stroke-linejoin="round" stroke-linecap="round" />
<rect x="549.8" y="802.55" width="428.85" height="2.1" fill="#000"/>
<rect x="549.8" y="1019.2" width="428.85" height="2.05" fill="#000"/>
<rect x="549.8" y="802.55" width="2.2" height="218.7" fill="#000"/>
<rect x="976.75" y="802.55" width="1.9" height="218.7" fill="#000"/>
<rect x="551.9" y="821.15" width="0.9" height="1" fill="#000"/>
<rect x="551.9" y="839.2" width="0.9" height="1" fill="#000"/>
<rect x="551.9" y="857.25" width="0.9" height="1" fill="#000"/>
<rect x="551.9" y="875.3" width="0.9" height="1" fill="#000"/>
<rect x="551.9" y="893.35" width="0.9" height="1" fill="#000"/>
<rect x="551.9" y="911.4" width="0.9" height="1" fill="#000"/>
<rect x="551.9" y="929.45" width="0.9" height="1" fill="#000"/>
<rect x="551.9" y="947.5" width="0.9" height="1" fill="#000"/>
<rect x="551.9" y="965.55" width="0.9" height="1" fill="#000"/>
<rect x="551.9" y="983.6" width="0.9" height="1" fill="#000"/>
<rect x="551.9" y="1001.65" width="0.9" height="1" fill="#000"/>
<rect x="548" y="864" width="8" height="8" fill="#000"/>
<rect x="551" y="890.5" width="8" height="8" fill="#000"/>
<rect x="572.3" y="901" width="8" height="8" fill="#000"/>
<rect x="597.4" y="897" width="8" height="8" fill="#000"/>
<rect x="647.5" y="896.5" width="8" height="8" fill="#000"/>
<rect x="697.8" y="899.4" width="8" height="8" fill="#000"/>
<rect x="748" y="901.4" width="8" height="8" fill="#000"/>
<rect x="798.2" y="892.1" width="8" height="8" fill="#000"/>
<rect x="848.3" y="890.2" width="8" height="8" fill="#000"/>
<rect x="898.5" y="888.4" width="8" height="8" fill="#000"/>
<rect x="948.7" y="875" width="8" height="8" fill="#000"/>
<text x="762.7" y="779.3" font-size="17.75" text-anchor="middle" fill="#000" font-weight="normal" stroke="#000" stroke-width="0.3">noise figure</text>
<text x="762.2" y="1058.8" font-size="13.3" text-anchor="middle" fill="#303030" font-weight="normal" >f [MHz]</text>
<text x="600.21" y="1037.9" font-size="10.7" text-anchor="middle" fill="#303030" font-weight="normal" >1000</text>
<text x="650.42" y="1037.9" font-size="10.7" text-anchor="middle" fill="#303030" font-weight="normal" >2000</text>
<text x="700.64" y="1037.9" font-size="10.7" text-anchor="middle" fill="#303030" font-weight="normal" >3000</text>
<text x="750.85" y="1037.9" font-size="10.7" text-anchor="middle" fill="#303030" font-weight="normal" >4000</text>
<text x="801.06" y="1037.9" font-size="10.7" text-anchor="middle" fill="#303030" font-weight="normal" >5000</text>
<text x="851.27" y="1037.9" font-size="10.7" text-anchor="middle" fill="#303030" font-weight="normal" >6000</text>
<text x="901.48" y="1037.9" font-size="10.7" text-anchor="middle" fill="#303030" font-weight="normal" >7000</text>
<text x="951.69" y="1037.9" font-size="10.7" text-anchor="middle" fill="#303030" font-weight="normal" >8000</text>
<text x="540.9" y="806.9" font-size="10.7" text-anchor="end" fill="#303030" font-weight="normal" >12</text>
<text x="540.9" y="843" font-size="10.7" text-anchor="end" fill="#303030" font-weight="normal" >10</text>
<text x="540.9" y="879.1" font-size="10.7" text-anchor="end" fill="#303030" font-weight="normal" >8</text>
<text x="540.9" y="915.2" font-size="10.7" text-anchor="end" fill="#303030" font-weight="normal" >6</text>
<text x="540.9" y="951.3" font-size="10.7" text-anchor="end" fill="#303030" font-weight="normal" >4</text>
<text x="540.9" y="987.4" font-size="10.7" text-anchor="end" fill="#303030" font-weight="normal" >2</text>
<text x="540.9" y="1023.5" font-size="10.7" text-anchor="end" fill="#303030" font-weight="normal" >0</text>
<text transform="translate(513.2,912.9) rotate(-90)" font-size="13" text-anchor="middle" fill="#303030">[dB]</text>
<rect x="53.1" y="1139.75" width="427" height="216.8" fill="#c0c0c0"/>
<line x1="78.22" y1="1139.75" x2="78.22" y2="1356.55" stroke="#262626" stroke-width="1.35"/>
<line x1="128.45" y1="1139.75" x2="128.45" y2="1356.55" stroke="#262626" stroke-width="1.35"/>
<line x1="178.69" y1="1139.75" x2="178.69" y2="1356.55" stroke="#262626" stroke-width="1.35"/>
<line x1="228.92" y1="1139.75" x2="228.92" y2="1356.55" stroke="#262626" stroke-width="1.35"/>
<line x1="279.16" y1="1139.75" x2="279.16" y2="1356.55" stroke="#262626" stroke-width="1.35"/>
<line x1="329.39" y1="1139.75" x2="329.39" y2="1356.55" stroke="#262626" stroke-width="1.35"/>
<line x1="379.63" y1="1139.75" x2="379.63" y2="1356.55" stroke="#262626" stroke-width="1.35"/>
<line x1="429.86" y1="1139.75" x2="429.86" y2="1356.55" stroke="#262626" stroke-width="1.35"/>
<line x1="103.34" y1="1139.75" x2="103.34" y2="1356.55" stroke="#000" stroke-width="2"/>
<line x1="153.57" y1="1139.75" x2="153.57" y2="1356.55" stroke="#000" stroke-width="2"/>
<line x1="203.81" y1="1139.75" x2="203.81" y2="1356.55" stroke="#000" stroke-width="2"/>
<line x1="254.04" y1="1139.75" x2="254.04" y2="1356.55" stroke="#000" stroke-width="2"/>
<line x1="304.28" y1="1139.75" x2="304.28" y2="1356.55" stroke="#000" stroke-width="2"/>
<line x1="354.51" y1="1139.75" x2="354.51" y2="1356.55" stroke="#000" stroke-width="2"/>
<line x1="404.75" y1="1139.75" x2="404.75" y2="1356.55" stroke="#000" stroke-width="2"/>
<line x1="454.98" y1="1139.75" x2="454.98" y2="1356.55" stroke="#000" stroke-width="2"/>
<line x1="53.1" y1="1175.88" x2="480.1" y2="1175.88" stroke="#000" stroke-width="1.65"/>
<line x1="53.1" y1="1212.02" x2="480.1" y2="1212.02" stroke="#000" stroke-width="1.65"/>
<line x1="53.1" y1="1248.15" x2="480.1" y2="1248.15" stroke="#000" stroke-width="1.65"/>
<line x1="53.1" y1="1284.28" x2="480.1" y2="1284.28" stroke="#000" stroke-width="1.65"/>
<line x1="53.1" y1="1320.42" x2="480.1" y2="1320.42" stroke="#000" stroke-width="1.65"/>
<polyline points="53.1,1240.6 254.3,1240.6 254.3,1261.4 456.3,1261.4" fill="none" stroke="#fff" stroke-width="3.3" stroke-linejoin="miter" stroke-linecap="butt"/>
<polyline points="55,1186.8 103.3,1197 128.3,1204.5 153.3,1204.5 253.9,1215.8 304.2,1224.3 354.4,1226.3 404.6,1228 455,1234.5" fill="none" stroke="#000" stroke-width="3.3" stroke-linejoin="round" stroke-linecap="round" />
<rect x="52" y="1138.7" width="429.05" height="2.1" fill="#000"/>
<rect x="52" y="1355.55" width="429.05" height="2.05" fill="#000"/>
<rect x="52" y="1138.7" width="2.2" height="218.9" fill="#000"/>
<rect x="479.15" y="1138.7" width="1.9" height="218.9" fill="#000"/>
<rect x="54.1" y="1146.48" width="0.9" height="1" fill="#000"/>
<rect x="54.1" y="1153.7" width="0.9" height="1" fill="#000"/>
<rect x="54.1" y="1160.93" width="0.9" height="1" fill="#000"/>
<rect x="54.1" y="1168.16" width="0.9" height="1" fill="#000"/>
<rect x="54.1" y="1175.38" width="0.9" height="1" fill="#000"/>
<rect x="54.1" y="1182.61" width="0.9" height="1" fill="#000"/>
<rect x="54.1" y="1189.84" width="0.9" height="1" fill="#000"/>
<rect x="54.1" y="1197.06" width="0.9" height="1" fill="#000"/>
<rect x="54.1" y="1204.29" width="0.9" height="1" fill="#000"/>
<rect x="54.1" y="1211.52" width="0.9" height="1" fill="#000"/>
<rect x="54.1" y="1218.74" width="0.9" height="1" fill="#000"/>
<rect x="54.1" y="1225.97" width="0.9" height="1" fill="#000"/>
<rect x="54.1" y="1233.2" width="0.9" height="1" fill="#000"/>
<rect x="54.1" y="1240.42" width="0.9" height="1" fill="#000"/>
<rect x="54.1" y="1247.65" width="0.9" height="1" fill="#000"/>
<rect x="54.1" y="1254.88" width="0.9" height="1" fill="#000"/>
<rect x="54.1" y="1262.1" width="0.9" height="1" fill="#000"/>
<rect x="54.1" y="1269.33" width="0.9" height="1" fill="#000"/>
<rect x="54.1" y="1276.56" width="0.9" height="1" fill="#000"/>
<rect x="54.1" y="1283.78" width="0.9" height="1" fill="#000"/>
<rect x="54.1" y="1291.01" width="0.9" height="1" fill="#000"/>
<rect x="54.1" y="1298.24" width="0.9" height="1" fill="#000"/>
<rect x="54.1" y="1305.46" width="0.9" height="1" fill="#000"/>
<rect x="54.1" y="1312.69" width="0.9" height="1" fill="#000"/>
<rect x="54.1" y="1319.92" width="0.9" height="1" fill="#000"/>
<rect x="54.1" y="1327.14" width="0.9" height="1" fill="#000"/>
<rect x="54.1" y="1334.37" width="0.9" height="1" fill="#000"/>
<rect x="54.1" y="1341.6" width="0.9" height="1" fill="#000"/>
<rect x="54.1" y="1348.82" width="0.9" height="1" fill="#000"/>
<rect x="52.7" y="1239.1" width="1.6" height="3" fill="#fff" opacity="0.75"/>
<rect x="51" y="1182.8" width="8" height="8" fill="#000"/>
<rect x="99.3" y="1193" width="8" height="8" fill="#000"/>
<rect x="124.3" y="1200.5" width="8" height="8" fill="#000"/>
<rect x="149.3" y="1200.5" width="8" height="8" fill="#000"/>
<rect x="249.9" y="1211.8" width="8" height="8" fill="#000"/>
<rect x="300.2" y="1220.3" width="8" height="8" fill="#000"/>
<rect x="350.4" y="1222.3" width="8" height="8" fill="#000"/>
<rect x="400.6" y="1224" width="8" height="8" fill="#000"/>
<rect x="451" y="1230.5" width="8" height="8" fill="#000"/>
<text x="265" y="1115.3" font-size="17.75" text-anchor="middle" fill="#000" font-weight="normal" stroke="#000" stroke-width="0.3">OPIP3</text>
<text x="264.5" y="1394.8" font-size="13.3" text-anchor="middle" fill="#303030" font-weight="normal" >f [MHz]</text>
<text x="102.44" y="1373.9" font-size="10.7" text-anchor="middle" fill="#303030" font-weight="normal" >1000</text>
<text x="152.67" y="1373.9" font-size="10.7" text-anchor="middle" fill="#303030" font-weight="normal" >2000</text>
<text x="202.91" y="1373.9" font-size="10.7" text-anchor="middle" fill="#303030" font-weight="normal" >3000</text>
<text x="253.14" y="1373.9" font-size="10.7" text-anchor="middle" fill="#303030" font-weight="normal" >4000</text>
<text x="303.38" y="1373.9" font-size="10.7" text-anchor="middle" fill="#303030" font-weight="normal" >5000</text>
<text x="353.61" y="1373.9" font-size="10.7" text-anchor="middle" fill="#303030" font-weight="normal" >6000</text>
<text x="403.85" y="1373.9" font-size="10.7" text-anchor="middle" fill="#303030" font-weight="normal" >7000</text>
<text x="454.08" y="1373.9" font-size="10.7" text-anchor="middle" fill="#303030" font-weight="normal" >8000</text>
<text x="42.9" y="1143.05" font-size="10.7" text-anchor="end" fill="#303030" font-weight="normal" >30</text>
<text x="42.9" y="1179.18" font-size="10.7" text-anchor="end" fill="#303030" font-weight="normal" >25</text>
<text x="42.9" y="1215.32" font-size="10.7" text-anchor="end" fill="#303030" font-weight="normal" >20</text>
<text x="42.9" y="1251.45" font-size="10.7" text-anchor="end" fill="#303030" font-weight="normal" >15</text>
<text x="42.9" y="1287.58" font-size="10.7" text-anchor="end" fill="#303030" font-weight="normal" >10</text>
<text x="42.9" y="1323.72" font-size="10.7" text-anchor="end" fill="#303030" font-weight="normal" >5</text>
<text x="42.9" y="1359.85" font-size="10.7" text-anchor="end" fill="#303030" font-weight="normal" >0</text>
<text transform="translate(14.7,1249.15) rotate(-90)" font-size="13" text-anchor="middle" fill="#303030">[dBm]</text>
<rect x="550.9" y="1139.75" width="426.8" height="216.8" fill="#c0c0c0"/>
<line x1="576.01" y1="1139.75" x2="576.01" y2="1356.55" stroke="#262626" stroke-width="1.35"/>
<line x1="626.22" y1="1139.75" x2="626.22" y2="1356.55" stroke="#262626" stroke-width="1.35"/>
<line x1="676.43" y1="1139.75" x2="676.43" y2="1356.55" stroke="#262626" stroke-width="1.35"/>
<line x1="726.64" y1="1139.75" x2="726.64" y2="1356.55" stroke="#262626" stroke-width="1.35"/>
<line x1="776.85" y1="1139.75" x2="776.85" y2="1356.55" stroke="#262626" stroke-width="1.35"/>
<line x1="827.06" y1="1139.75" x2="827.06" y2="1356.55" stroke="#262626" stroke-width="1.35"/>
<line x1="877.28" y1="1139.75" x2="877.28" y2="1356.55" stroke="#262626" stroke-width="1.35"/>
<line x1="927.49" y1="1139.75" x2="927.49" y2="1356.55" stroke="#262626" stroke-width="1.35"/>
<line x1="601.11" y1="1139.75" x2="601.11" y2="1356.55" stroke="#000" stroke-width="2"/>
<line x1="651.32" y1="1139.75" x2="651.32" y2="1356.55" stroke="#000" stroke-width="2"/>
<line x1="701.54" y1="1139.75" x2="701.54" y2="1356.55" stroke="#000" stroke-width="2"/>
<line x1="751.75" y1="1139.75" x2="751.75" y2="1356.55" stroke="#000" stroke-width="2"/>
<line x1="801.96" y1="1139.75" x2="801.96" y2="1356.55" stroke="#000" stroke-width="2"/>
<line x1="852.17" y1="1139.75" x2="852.17" y2="1356.55" stroke="#000" stroke-width="2"/>
<line x1="902.38" y1="1139.75" x2="902.38" y2="1356.55" stroke="#000" stroke-width="2"/>
<line x1="952.59" y1="1139.75" x2="952.59" y2="1356.55" stroke="#000" stroke-width="2"/>
<line x1="550.9" y1="1183.11" x2="977.7" y2="1183.11" stroke="#000" stroke-width="1.65"/>
<line x1="550.9" y1="1226.47" x2="977.7" y2="1226.47" stroke="#000" stroke-width="1.65"/>
<line x1="550.9" y1="1269.83" x2="977.7" y2="1269.83" stroke="#000" stroke-width="1.65"/>
<line x1="550.9" y1="1313.19" x2="977.7" y2="1313.19" stroke="#000" stroke-width="1.65"/>
<polyline points="550.9,1248 601.4,1248 601.4,1282.5 753.2,1282.5" fill="none" stroke="#fff" stroke-width="3.3" stroke-linejoin="miter" stroke-linecap="butt"/>
<polyline points="553,1193 601.4,1205.5 701.8,1193.8 752.2,1218.8" fill="none" stroke="#000" stroke-width="3.3" stroke-linejoin="round" stroke-linecap="round" />
<rect x="549.8" y="1138.7" width="428.85" height="2.1" fill="#000"/>
<rect x="549.8" y="1355.55" width="428.85" height="2.05" fill="#000"/>
<rect x="549.8" y="1138.7" width="2.2" height="218.9" fill="#000"/>
<rect x="976.75" y="1138.7" width="1.9" height="218.9" fill="#000"/>
<rect x="551.9" y="1147.92" width="0.9" height="1" fill="#000"/>
<rect x="551.9" y="1156.59" width="0.9" height="1" fill="#000"/>
<rect x="551.9" y="1165.27" width="0.9" height="1" fill="#000"/>
<rect x="551.9" y="1173.94" width="0.9" height="1" fill="#000"/>
<rect x="551.9" y="1182.61" width="0.9" height="1" fill="#000"/>
<rect x="551.9" y="1191.28" width="0.9" height="1" fill="#000"/>
<rect x="551.9" y="1199.95" width="0.9" height="1" fill="#000"/>
<rect x="551.9" y="1208.63" width="0.9" height="1" fill="#000"/>
<rect x="551.9" y="1217.3" width="0.9" height="1" fill="#000"/>
<rect x="551.9" y="1225.97" width="0.9" height="1" fill="#000"/>
<rect x="551.9" y="1234.64" width="0.9" height="1" fill="#000"/>
<rect x="551.9" y="1243.31" width="0.9" height="1" fill="#000"/>
<rect x="551.9" y="1251.99" width="0.9" height="1" fill="#000"/>
<rect x="551.9" y="1260.66" width="0.9" height="1" fill="#000"/>
<rect x="551.9" y="1269.33" width="0.9" height="1" fill="#000"/>
<rect x="551.9" y="1278" width="0.9" height="1" fill="#000"/>
<rect x="551.9" y="1286.67" width="0.9" height="1" fill="#000"/>
<rect x="551.9" y="1295.35" width="0.9" height="1" fill="#000"/>
<rect x="551.9" y="1304.02" width="0.9" height="1" fill="#000"/>
<rect x="551.9" y="1312.69" width="0.9" height="1" fill="#000"/>
<rect x="551.9" y="1321.36" width="0.9" height="1" fill="#000"/>
<rect x="551.9" y="1330.03" width="0.9" height="1" fill="#000"/>
<rect x="551.9" y="1338.71" width="0.9" height="1" fill="#000"/>
<rect x="551.9" y="1347.38" width="0.9" height="1" fill="#000"/>
<rect x="550.5" y="1246.5" width="1.6" height="3" fill="#fff" opacity="0.75"/>
<rect x="549" y="1189" width="8" height="8" fill="#000"/>
<rect x="597.4" y="1201.5" width="8" height="8" fill="#000"/>
<rect x="697.8" y="1189.8" width="8" height="8" fill="#000"/>
<rect x="748.2" y="1214.8" width="8" height="8" fill="#000"/>
<text x="762.7" y="1115.3" font-size="17.75" text-anchor="middle" fill="#000" font-weight="normal" stroke="#000" stroke-width="0.3">OPIP2</text>
<text x="762.2" y="1394.8" font-size="13.3" text-anchor="middle" fill="#303030" font-weight="normal" >f [MHz]</text>
<text x="600.21" y="1373.9" font-size="10.7" text-anchor="middle" fill="#303030" font-weight="normal" >1000</text>
<text x="650.42" y="1373.9" font-size="10.7" text-anchor="middle" fill="#303030" font-weight="normal" >2000</text>
<text x="700.64" y="1373.9" font-size="10.7" text-anchor="middle" fill="#303030" font-weight="normal" >3000</text>
<text x="750.85" y="1373.9" font-size="10.7" text-anchor="middle" fill="#303030" font-weight="normal" >4000</text>
<text x="801.06" y="1373.9" font-size="10.7" text-anchor="middle" fill="#303030" font-weight="normal" >5000</text>
<text x="851.27" y="1373.9" font-size="10.7" text-anchor="middle" fill="#303030" font-weight="normal" >6000</text>
<text x="901.48" y="1373.9" font-size="10.7" text-anchor="middle" fill="#303030" font-weight="normal" >7000</text>
<text x="951.69" y="1373.9" font-size="10.7" text-anchor="middle" fill="#303030" font-weight="normal" >8000</text>
<text x="540.9" y="1143.05" font-size="10.7" text-anchor="end" fill="#303030" font-weight="normal" >50</text>
<text x="540.9" y="1186.41" font-size="10.7" text-anchor="end" fill="#303030" font-weight="normal" >40</text>
<text x="540.9" y="1229.77" font-size="10.7" text-anchor="end" fill="#303030" font-weight="normal" >30</text>
<text x="540.9" y="1273.13" font-size="10.7" text-anchor="end" fill="#303030" font-weight="normal" >20</text>
<text x="540.9" y="1316.49" font-size="10.7" text-anchor="end" fill="#303030" font-weight="normal" >10</text>
<text x="540.9" y="1359.85" font-size="10.7" text-anchor="end" fill="#303030" font-weight="normal" >0</text>
<text transform="translate(513.2,1249.15) rotate(-90)" font-size="13" text-anchor="middle" fill="#303030">[dBm]</text>
</svg>
</body></html>
